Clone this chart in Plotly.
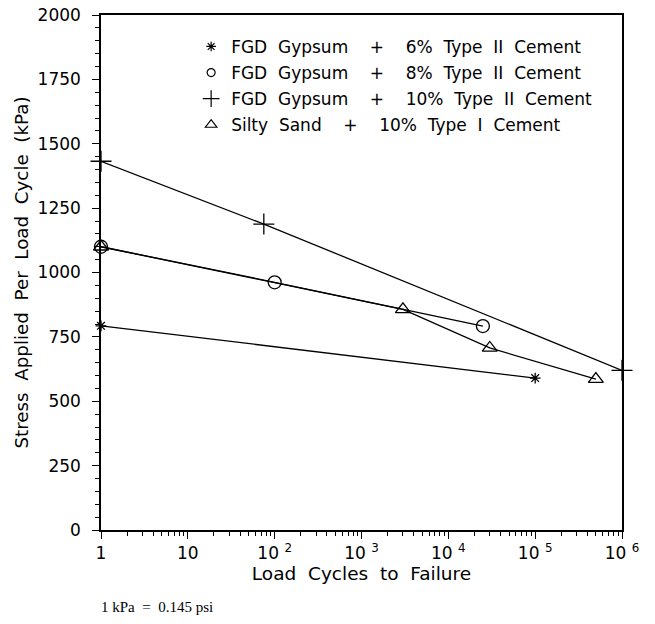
import plotly.graph_objects as go

# ---- data ----
cycles_6 = [1, 1e5]
stress_6 = [793, 590]

cycles_8 = [1, 100, 25000]
stress_8 = [1100, 962, 792]

cycles_10 = [1, 75, 1e6]
stress_10 = [1432, 1188, 620]

cycles_ss = [1, 3000, 30000, 5e5]
stress_ss = [1100, 857, 707, 586]

names = [
    "FGD Gypsum  +  6% Type II Cement",
    "FGD Gypsum  +  8% Type II Cement",
    "FGD Gypsum  +  10% Type II Cement",
    "Silty Sand  +  10% Type I Cement",
]
symbols = ["asterisk-open", "circle-open", "cross-thin-open", "triangle-up-open"]
sizes = [9, 13, 15, 13]
legend_sizes = [8, 8, 12, 10]

x_tickvals = [1, 10, 100, 1e3, 1e4, 1e5, 1e6]
x_ticktext = ["1", "10", "10\u00a0<sup>2</sup>", "10\u00a0<sup>3</sup>", "10\u00a0<sup>4</sup>",
              "10\u00a0<sup>5</sup>", "10\u00a0<sup>6</sup>"]
x_minor = [m * 10 ** d for d in range(6) for m in range(2, 10)]

FONT = "DejaVu Sans"
NB = "\u00a0"


def spaced(s):
    return s.replace(" ", NB + NB)


fig = go.Figure()
series = [(cycles_6, stress_6), (cycles_8, stress_8), (cycles_10, stress_10), (cycles_ss, stress_ss)]
for (xs, ys), sym, sz in zip(series, symbols, sizes):
    fig.add_trace(go.Scatter(
        x=xs, y=ys, mode="lines+markers", showlegend=False, cliponaxis=False,
        line=dict(color="black", width=1.3),
        marker=dict(symbol=sym, size=sz, color="black", line=dict(color="black", width=1.3)),
    ))
for i, (nm, sym, sz) in enumerate(zip(names, symbols, legend_sizes)):
    fig.add_trace(go.Scatter(
        x=[None], y=[None], mode="markers", name=spaced(nm), legendgroup="g%d" % i,
        marker=dict(symbol=sym, size=sz, color="black", line=dict(color="black", width=1.2)),
    ))

fig.update_layout(
    width=655, height=624,
    margin=dict(l=101, r=33, t=15, b=94),
    paper_bgcolor="white", plot_bgcolor="white",
    font=dict(family=FONT, size=17, color="black"),
    legend=dict(x=0.173, y=0.973, xanchor="left", yanchor="top",
                bgcolor="rgba(0,0,0,0)", font=dict(size=17), itemwidth=30,
                traceorder="grouped", tracegroupgap=1),
    xaxis=dict(
        type="log", range=[0, 6], showgrid=False, zeroline=False, automargin=False,
        showline=True, linecolor="black", linewidth=1.5, mirror=True,
        ticks="outside", ticklen=7, tickwidth=1.3, tickcolor="black",
        tickmode="array", tickvals=x_tickvals, ticktext=x_ticktext,
        tickfont=dict(size=17), ticklabeloverflow="allow",
        minor=dict(ticks="outside", ticklen=4, tickwidth=1, tickcolor="black",
                   tickmode="array", tickvals=x_minor),
        title=dict(text=spaced("Load Cycles to Failure"), standoff=2, font=dict(size=18.5)),
    ),
    yaxis=dict(
        range=[0, 2000], showgrid=False, zeroline=False, automargin=False,
        showline=True, linecolor="black", linewidth=1.5, mirror=True,
        ticks="outside", ticklen=7, tickwidth=1.3, tickcolor="black",
        tick0=0, dtick=250, ticklabelstandoff=8, tickfont=dict(size=17),
        ticklabeloverflow="allow",
        minor=dict(ticks="outside", ticklen=4, tickwidth=1, tickcolor="black", dtick=50),
        title=dict(text=spaced("Stress Applied Per Load Cycle (kPa)"), standoff=4, font=dict(size=18.3)),
    ),
    annotations=[dict(
        text="1 kPa " + NB + "= " + NB + "0.145 psi", xref="paper", yref="paper", x=-0.004, y=-0.15,
        xanchor="left", yanchor="middle", showarrow=False,
        font=dict(family="Liberation Serif", size=15, color="black"),
    )],
)

fig.write_html("out.html", config={"displayModeBar": False},
               post_script="document.body.style.margin='0';")
